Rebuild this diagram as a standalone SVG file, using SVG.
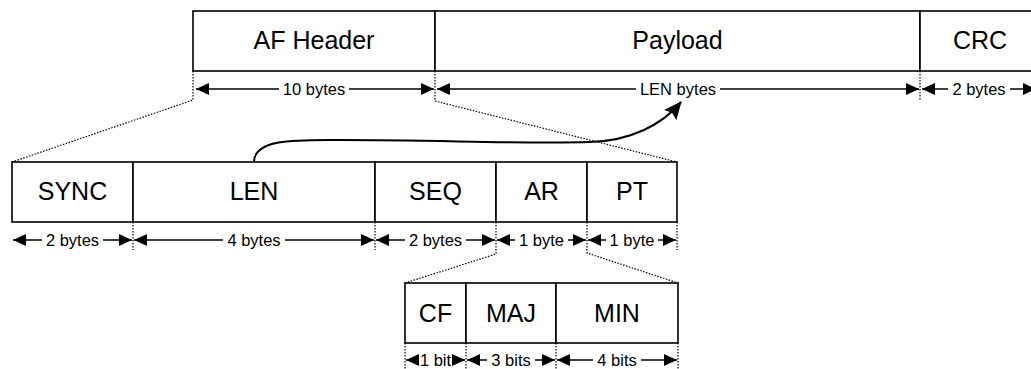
<svg xmlns="http://www.w3.org/2000/svg" width="1031" height="369" viewBox="0 0 1031 369">
<style>
.box{fill:#fff;stroke:#000;stroke-width:1.6}
.big{font-family:"Liberation Sans",Arial,sans-serif;font-size:25px;text-anchor:middle;fill:#000}
.small{font-family:"Liberation Sans",Arial,sans-serif;font-size:16.5px;text-anchor:middle;fill:#000}
.dl{stroke:#000;stroke-width:1.5;fill:none;marker-start:url(#ah)}
.dr{stroke:#000;stroke-width:1.5;fill:none;marker-end:url(#ah)}
.dot{stroke:#000;stroke-width:1.2;fill:none;stroke-dasharray:1.5 1.5}
.curve{stroke:#000;stroke-width:2;fill:none;marker-end:url(#big)}
</style>
<defs>
<marker id="ah" viewBox="0 0 13 12" refX="13" refY="6" markerWidth="13" markerHeight="12" markerUnits="userSpaceOnUse" orient="auto-start-reverse"><path d="M0,0 L13,6 L0,12 z" fill="#000"/></marker>
<marker id="big" viewBox="0 0 18 16" refX="17" refY="8" markerWidth="18" markerHeight="16" markerUnits="userSpaceOnUse" orient="auto"><path d="M0,0 L18,8 L0,16 L3,8 z" fill="#000"/></marker>
</defs>
<rect width="1031" height="369" fill="#fff"/>
<g id="connectors">
<path class="dot" d="M193,71 V100 L12,162"/>
<path class="dot" d="M435,71 V101 L677,162"/>
<path class="dot" d="M920,71 V100"/>
<path class="dot" d="M133,222 V250 M375,222 V250 M677,222 V250"/>
<path class="dot" d="M496,222 V254 L405,283"/>
<path class="dot" d="M587,222 V253 L678,283"/>
<path class="dot" d="M405,343 V369 M466,343 V369 M556,343 V369 M678,343 V369"/>
<path class="curve" d="M254,162 C254,138 300,140 340,140 C440,140 520,144 590,142 C630,141 662,125 681,102"/>
</g>
<g id="af-header"><rect class="box" x="193" y="11" width="242" height="60"/><text class="big" x="314" y="49">AF Header</text></g>
<g id="payload"><rect class="box" x="435" y="11" width="485" height="60"/><text class="big" x="677.5" y="49">Payload</text></g>
<g id="crc"><rect class="box" x="920" y="11" width="117" height="60"/><text class="big" x="980" y="49">CRC</text></g>
<g id="sync"><rect class="box" x="12" y="162" width="121" height="60"/><text class="big" x="72.5" y="200">SYNC</text></g>
<g id="len"><rect class="box" x="133" y="162" width="242" height="60"/><text class="big" x="254" y="200">LEN</text></g>
<g id="seq"><rect class="box" x="375" y="162" width="121" height="60"/><text class="big" x="435.5" y="200">SEQ</text></g>
<g id="ar"><rect class="box" x="496" y="162" width="91" height="60"/><text class="big" x="541.5" y="200">AR</text></g>
<g id="pt"><rect class="box" x="587" y="162" width="90" height="60"/><text class="big" x="632" y="200">PT</text></g>
<g id="cf"><rect class="box" x="405" y="283" width="61" height="60"/><text class="big" x="435.5" y="322">CF</text></g>
<g id="maj"><rect class="box" x="466" y="283" width="90" height="60"/><text class="big" x="511" y="322">MAJ</text></g>
<g id="min"><rect class="box" x="556" y="283" width="122" height="60"/><text class="big" x="617" y="322">MIN</text></g>
<g id="dimensions">
<line class="dl" x1="196" y1="89" x2="279" y2="89"/><line class="dr" x1="349" y1="89" x2="434" y2="89"/><text class="small" x="314" y="95">10 bytes</text>
<line class="dl" x1="437" y1="89" x2="636" y2="89"/><line class="dr" x1="720" y1="89" x2="919" y2="89"/><text class="small" x="678" y="95">LEN bytes</text>
<line class="dl" x1="922" y1="89" x2="948" y2="89"/><line class="dr" x1="1010" y1="89" x2="1036" y2="89"/><text class="small" x="979" y="95">2 bytes</text>
<line class="dl" x1="13" y1="240" x2="42" y2="240"/><line class="dr" x1="103" y1="240" x2="132" y2="240"/><text class="small" x="72.5" y="246">2 bytes</text>
<line class="dl" x1="134" y1="240" x2="223" y2="240"/><line class="dr" x1="285" y1="240" x2="374" y2="240"/><text class="small" x="254" y="246">4 bytes</text>
<line class="dl" x1="376" y1="240" x2="405" y2="240"/><line class="dr" x1="466" y1="240" x2="495" y2="240"/><text class="small" x="435.5" y="246">2 bytes</text>
<line class="dl" x1="497" y1="240" x2="515" y2="240"/><line class="dr" x1="568" y1="240" x2="586" y2="240"/><text class="small" x="541.5" y="246">1 byte</text>
<line class="dl" x1="588" y1="240" x2="606" y2="240"/><line class="dr" x1="658" y1="240" x2="676" y2="240"/><text class="small" x="632" y="246">1 byte</text>
<line class="dl" x1="406" y1="360" x2="416" y2="360"/><line class="dr" x1="455" y1="360" x2="465" y2="360"/><text class="small" x="435.5" y="366">1 bit</text>
<line class="dl" x1="467" y1="360" x2="487" y2="360"/><line class="dr" x1="535" y1="360" x2="555" y2="360"/><text class="small" x="511" y="366">3 bits</text>
<line class="dl" x1="557" y1="360" x2="593" y2="360"/><line class="dr" x1="641" y1="360" x2="677" y2="360"/><text class="small" x="617" y="366">4 bits</text>
</g>
</svg>
